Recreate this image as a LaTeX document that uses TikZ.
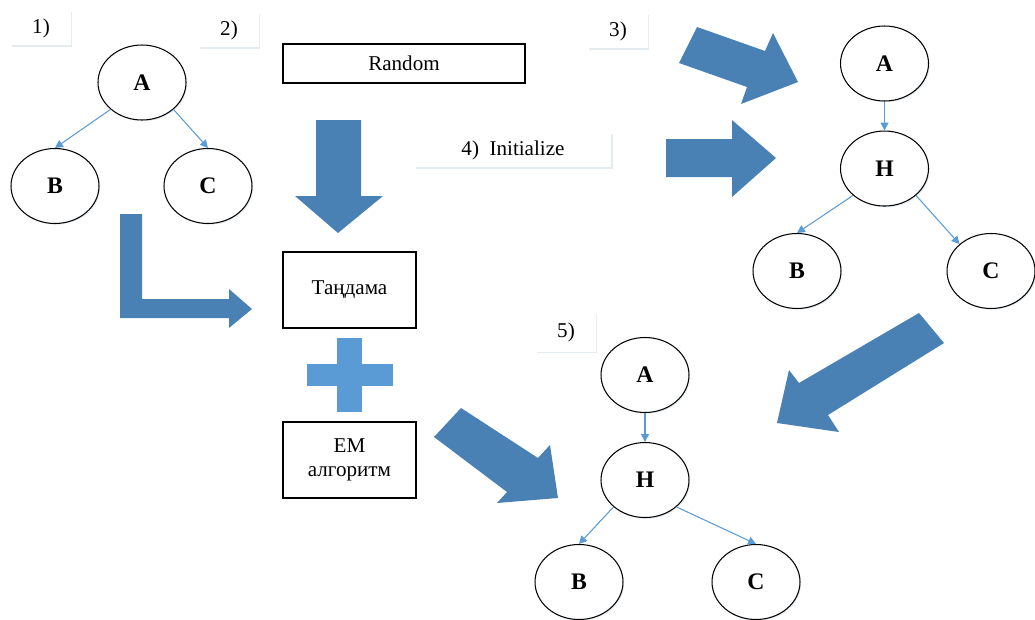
\documentclass[tikz,border=0pt]{standalone}
\usepackage{fontspec}
\setmainfont{Liberation Serif}
\usetikzlibrary{positioning, arrows.meta, shapes.geometric, shadows}
\definecolor{arrowblue}{RGB}{74,129,180}
\definecolor{lineblue}{RGB}{91,155,213}

\begin{document}
\begin{tikzpicture}[
    x=0.02cm, y=-0.02cm,
    node distance=0.58cm,
    softshadow/.style={drop shadow={shadow xshift=0.7pt, shadow yshift=-0.7pt, fill=lineblue!60!gray, opacity=0.18}},
    var/.style={draw, ellipse, line width=0.6pt, fill=white, minimum width=1.76cm, minimum height=1.5cm, inner sep=0pt, font=\fontsize{13.5}{15}\selectfont\bfseries, softshadow},
    box/.style={draw, line width=0.6pt, fill=white, align=center, font=\fontsize{12}{13.5}\selectfont, softshadow},
    tag/.style={fill=white, minimum width=1.2cm, minimum height=0.7cm, font=\fontsize{12}{13.5}\selectfont, softshadow},
    edge/.style={draw=lineblue, line width=0.6pt, -{Triangle[length=4.5pt, width=4.5pt]}},
    bigarrow/.style={fill=arrowblue},
    plus/.style={fill=lineblue}
]
\useasboundingbox (0,0) rectangle (1035,619);

% --- step labels ---
\node[tag] (lab1) at (41,28) {1)};
\node[tag] (lab2) at (229,30) {2)};
\node[tag] (lab3) at (618,31) {3)};
\node[tag, minimum height=0.78cm] (lab5) at (566,332) {5)};

% --- tree 1 ---
\node[var] (a1) at (142,82.5) {A};
\node[var] (b1) at (55,186) {B};
\node[var] (c1) at (208,186) {C};

% --- middle boxes ---
\node[box, minimum width=4.84cm, minimum height=0.78cm] (random) at (404,63.5) {Random};
\node[tag, minimum width=3.94cm] (init) at (513,150) {4)\ \ Initialize};
\node[box, minimum width=2.66cm, minimum height=1.52cm] (tandama) at (349.5,290) {Таңдама};
\node[box, minimum width=2.66cm, minimum height=1.52cm] (em) at (349.5,460) {EM\\алгоритм};

% --- tree 3 ---
\node[var] (a3) at (884.5,63.5) {A};
\node[var, below=of a3] (h3) {H};
\node[var] (b3) at (797,271) {B};
\node[var] (c3) at (991,271) {C};

% --- tree 5 ---
\node[var] (a5) at (645,375) {A};
\node[var, below=of a5] (h5) {H};
\node[var] (b5) at (579,582) {B};
\node[var] (c5) at (756,582) {C};

% --- edges ---
\draw[edge] (a1.south west) -- (b1.north);
\draw[edge] (a1.south east) -- (c1.north);
\draw[edge] (a3) -- (h3);
\draw[edge] (h3.south west) -- (b3.north);
\draw[edge] (h3.south east) -- (c3.north west);
\draw[edge] (a5) -- (h5);
\draw[edge] (h5.south west) -- (b5.north);
\draw[edge] (h5.south east) -- (c5.north);

% --- block arrows ---
\fill[bigarrow] (120,214) -- (142,214) -- (142,299) -- (229,299) -- (229,289) -- (252,309)
    -- (229,328) -- (229,318) -- (120,318) -- cycle;
\fill[bigarrow] (316,120) -- (361,120) -- (361,196) -- (383,196) -- (338,233) -- (295,196)
    -- (316,196) -- cycle;
\fill[bigarrow] (666,139) -- (732,139) -- (732,120) -- (776,158) -- (732,197) -- (732,177)
    -- (666,177) -- cycle;
\fill[bigarrow] (697,27) -- (765,51) -- (773,33) -- (798,82) -- (741,104) -- (747,87)
    -- (679,63) -- cycle;
\fill[bigarrow] (919,313) -- (944,343) -- (828,415) -- (839,432) -- (777,423) -- (789,370)
    -- (799,383) -- cycle;
\fill[bigarrow] (461,408) -- (538,458) -- (550,445) -- (558,498) -- (497,503) -- (507,492)
    -- (434,437) -- cycle;

% --- plus sign ---
\fill[plus] (337,338) rectangle (362,412);
\fill[plus] (307,364) rectangle (393,386);

\end{tikzpicture}
\end{document}
